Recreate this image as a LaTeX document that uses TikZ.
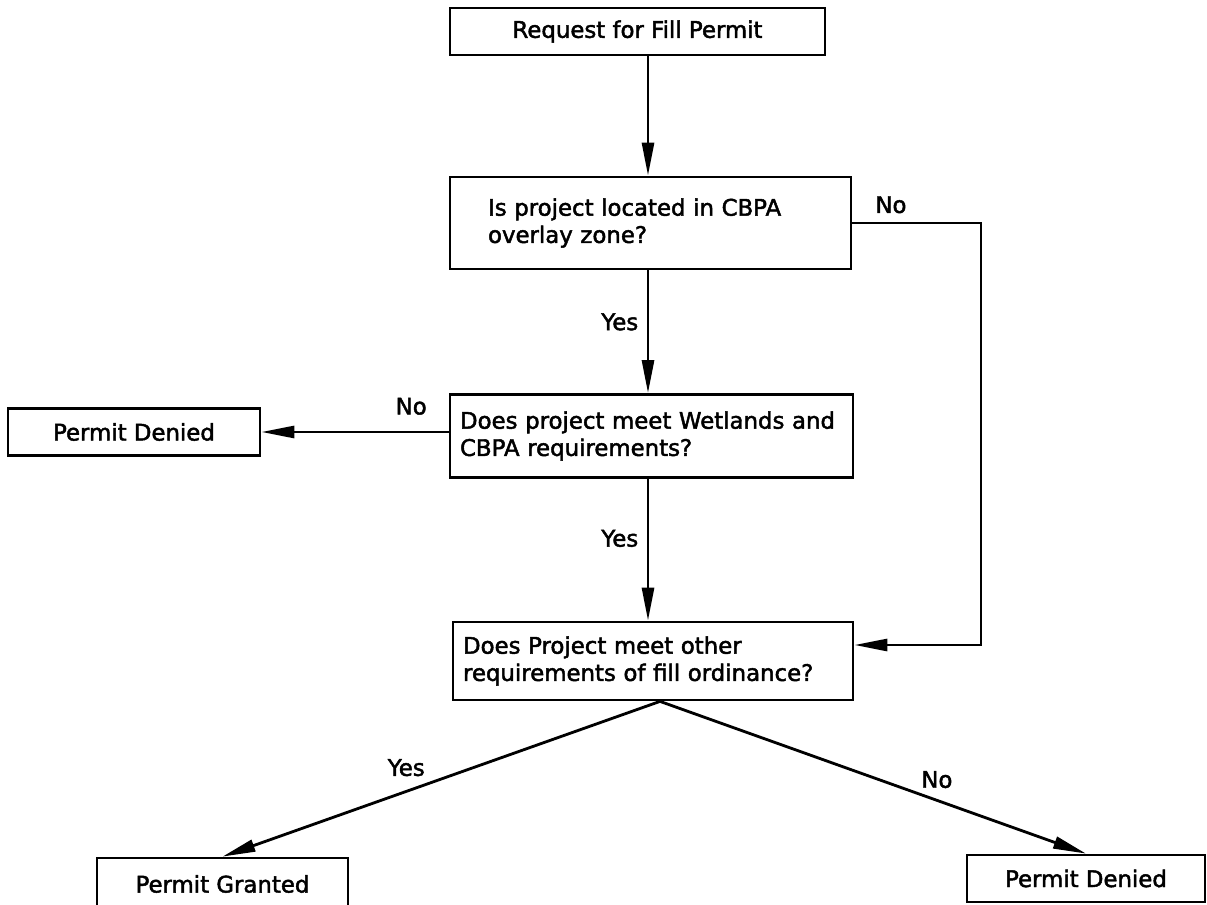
\documentclass[tikz,border=0pt]{standalone}
\usepackage{fontspec}
\newfontfamily\plotfont{DejaVu Sans}[FakeBold=2]
\usetikzlibrary{arrows.meta, positioning}

\tikzset{
  flowbox/.style={draw, line width=1.6pt, inner sep=0pt, font=\plotfont\fontsize{13}{15.5}\selectfont},
  querybox/.style={flowbox, align=left, inner xsep=0.2cm},
  flowline/.style={line width=1.6pt},
  flowarrow/.style={flowline, -{Triangle[length=0.66cm, width=0.24cm]}},
  answer/.style={font=\plotfont\fontsize{13}{15.5}\selectfont}
}

\begin{document}
\begin{tikzpicture}[x=0.02cm, y=-0.02cm]
    \clip (0,0) rectangle (1207,905);

    % --- boxes ---
    \node[flowbox, minimum width=7.5cm, minimum height=0.94cm] (request) at (637.5,31.5) {Request for Fill Permit};
    \node[querybox, inner xsep=0.76cm, text width=6.5cm, minimum height=1.84cm] (overlay) at (650.5,223)
        {Is project located in CBPA\\overlay zone?};
    \node[querybox, text width=7.66cm, minimum height=1.66cm] (wetlands) at (651.5,436)
        {Does project meet Wetlands and\\CBPA requirements?};
    \node[querybox, text width=7.6cm, minimum height=1.56cm] (fillreq) at (653,661)
        {Does Project meet other\\requirements of fill ordinance?};

    \node[flowbox, minimum width=5.04cm, minimum height=0.94cm] (deniedwet) at (134,432) {Permit Denied};
    \node[flowbox, minimum width=5.02cm, minimum height=1.04cm] (granted) at (222.5,884) {Permit Granted};
    \node[flowbox, minimum width=4.76cm, minimum height=0.94cm] (deniedfill) at (1086,878.5) {Permit Denied};

    % --- helper coordinates ---
    \coordinate (trunk) at (648,0);
    \coordinate (bypass) at (981,645);
    \coordinate (fork) at (660,0);

    % --- connectors ---
    \draw[flowarrow] (request.south -| trunk) -- (overlay.north -| trunk);
    \draw[flowarrow] (overlay.south -| trunk) -- (wetlands.north -| trunk)
        node[answer, pos=0.42, left=0.05cm] {Yes};
    \draw[flowarrow] (wetlands.south -| trunk) -- (fillreq.north -| trunk)
        node[answer, pos=0.42, left=0.05cm] {Yes};
    \draw[flowarrow] (wetlands.west |- deniedwet.east) -- (deniedwet.east)
        node[answer, pos=0.2, above, yshift=0.2cm] {No};
    \draw[flowarrow] (overlay.east) -| node[answer, pos=0.15, above, yshift=0.05cm] {No}
        (bypass) -- (fillreq.east |- bypass);
    \draw[flowarrow] (fillreq.south -| fork) -- (granted.north)
        node[answer, pos=0.58, above, yshift=0.16cm] {Yes};
    \draw[flowarrow] (fillreq.south -| fork) -- (deniedfill.north)
        node[answer, pos=0.65, above, yshift=0.1cm] {No};

\end{tikzpicture}
\end{document}
